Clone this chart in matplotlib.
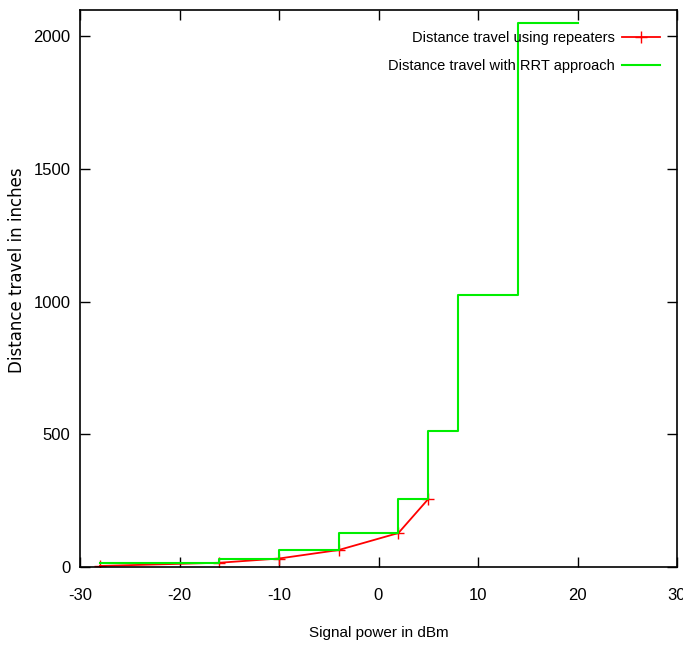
import matplotlib
matplotlib.use("Agg")
import matplotlib.pyplot as plt

plt.rcParams['font.family'] = ['Liberation Sans', 'DejaVu Sans']
plt.rcParams['axes.unicode_minus'] = False

# data
rep_x = [-28, -16, -10, -4, 2, 5]
rep_y = [4, 16, 32, 64, 128, 256]
rrt_x = [-28, -16, -10, -4, 2, 5, 8, 14, 20]
rrt_y = [16, 32, 64, 128, 256, 512, 1024, 2048, 2048]
xticks = [-30, -20, -10, 0, 10, 20, 30]
yticks = [0, 500, 1000, 1500, 2000]

fig = plt.figure(figsize=(6.83, 6.5), dpi=100)
ax = fig.add_axes([80/683, 1-567/650, (677-80)/683, (567-10)/650])

l1, = ax.plot(rep_x, rep_y, color='#ff0000', lw=1.3, marker='+', ms=9, mew=1.0,
              label='Distance travel using repeaters')
l2, = ax.plot(rrt_x, rrt_y, color='#00ee00', lw=1.5, drawstyle='steps-post',
              label='Distance travel with RRT approach')

ax.set_xlim(-30, 30)
ax.set_ylim(0, 2098)
ax.set_xticks(xticks)
ax.set_yticks(yticks)
ax.tick_params(direction='in', length=7, width=1, top=True, right=True,
               labelsize=12)
ax.tick_params(axis='x', pad=15)
ax.tick_params(axis='y', pad=7)
for s in ax.spines.values():
    s.set_linewidth(1.2)

ax.set_xlabel('Signal power in dBm', fontsize=11)
ax.xaxis.set_label_coords(0.5, -(626-567)/557, transform=ax.transAxes)
ax.set_ylabel('Distance travel in inches', fontsize=12,
              family=['DejaVu Sans'])
ax.yaxis.set_label_coords(-(80-26)/597, 0.533, transform=ax.transAxes)

leg = ax.legend(loc='upper right', frameon=False, fontsize=10.5, markerfirst=False,
                handlelength=2.6, borderaxespad=0.0, labelspacing=0.95,
                handletextpad=0.5,
                bbox_to_anchor=(1 - 11/597, 1 - 15/557))
for t in leg.get_texts():
    t.set_ha('right')

fig.savefig('out.png', dpi=100)
